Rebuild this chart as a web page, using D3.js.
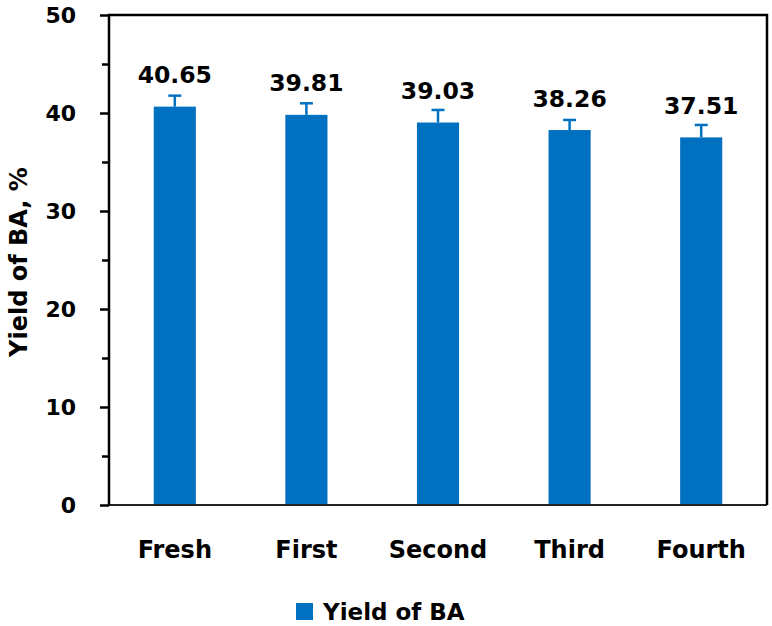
<!DOCTYPE html>
<html>
<head>
<meta charset="utf-8">
<script src="https://cdn.jsdelivr.net/npm/d3@7"></script>
<style>
  body { margin: 0; background: #fff; }
  text { font-family: "DejaVu Sans", sans-serif; font-weight: bold; fill: #000; }
</style>
</head>
<body>
<div id="chart"></div>
<script>
// data
const cycles = ["Fresh", "First", "Second", "Third", "Fourth"];
const yieldBA = [40.65, 39.81, 39.03, 38.26, 37.51];
const yieldErr = [1.12, 1.18, 1.28, 1.03, 1.27];
const yTicks = [0, 10, 20, 30, 40, 50];
const seriesName = "Yield of BA";
const yTitle = "Yield of BA, %";

const width = 772, height = 626;
const margin = { top: 15, right: 5, bottom: 121, left: 109 };
const blue = "#0070C0";

const svg = d3.select("#chart").append("svg")
  .attr("width", width)
  .attr("height", height);

const x = d3.scaleBand()
  .domain(cycles)
  .range([margin.left, width - margin.right])
  .paddingInner(0.68)
  .paddingOuter(0.34);

const y = d3.scaleLinear()
  .domain([0, 50])
  .range([height - margin.bottom, margin.top]);

// bars
svg.append("g").selectAll("rect")
  .data(cycles)
  .join("rect")
  .attr("x", d => x(d))
  .attr("y", (d, i) => y(yieldBA[i]))
  .attr("width", x.bandwidth())
  .attr("height", (d, i) => y(0) - y(yieldBA[i]))
  .attr("fill", blue);

// error bars (plus side only, minus is hidden by the bar)
const eb = svg.append("g")
  .attr("stroke", blue)
  .attr("stroke-width", 2.5);
cycles.forEach((c, i) => {
  const cx = x(c) + x.bandwidth() / 2;
  const top = y(yieldBA[i] + yieldErr[i]);
  eb.append("line")
    .attr("x1", cx).attr("x2", cx)
    .attr("y1", y(yieldBA[i])).attr("y2", top);
  eb.append("line")
    .attr("x1", cx - 6.5).attr("x2", cx + 6.5)
    .attr("y1", top).attr("y2", top);
});

// value labels
svg.append("g").selectAll("text")
  .data(cycles)
  .join("text")
  .attr("x", d => x(d) + x.bandwidth() / 2)
  .attr("y", (d, i) => y(yieldBA[i]) - 23.5)
  .attr("text-anchor", "middle")
  .style("font-size", "23.5px")
  .text((d, i) => yieldBA[i].toFixed(2));

// y axis with minor ticks at the halves
const yAxis = d3.axisLeft(y)
  .tickValues(d3.range(0, 51, 5))
  .tickSize(0)
  .tickFormat("");
const yg = svg.append("g")
  .attr("transform", `translate(${margin.left},0)`)
  .call(yAxis);
yg.select(".domain").remove();
yg.selectAll(".tick line")
  .attr("x2", d => (d % 10 === 0 ? -9 : -7))
  .attr("stroke", "#000")
  .attr("stroke-width", 2.5);

svg.append("g").selectAll("text")
  .data(yTicks)
  .join("text")
  .attr("x", 76)
  .attr("y", d => y(d))
  .attr("dy", "0.36em")
  .attr("text-anchor", "end")
  .style("font-size", "22px")
  .text(d => d);

// frame: thick left/top/right, thinner bottom
const x0 = margin.left, x1 = width - margin.right;
svg.append("line")
  .attr("x1", x0).attr("x2", x1)
  .attr("y1", y(0)).attr("y2", y(0))
  .attr("stroke", "#222").attr("stroke-width", 2);
svg.append("path")
  .attr("d", `M${x0},${y(0)}V${y(50)}H${x1}V${y(0)}`)
  .attr("fill", "none")
  .attr("stroke", "#000")
  .attr("stroke-width", 2.5);

// x labels
svg.append("g").selectAll("text")
  .data(cycles)
  .join("text")
  .attr("x", d => x(d) + x.bandwidth() / 2)
  .attr("y", 558)
  .attr("text-anchor", "middle")
  .style("font-size", "24px")
  .text(d => d);

// y title
svg.append("text")
  .attr("transform", `translate(27,262) rotate(-90)`)
  .attr("text-anchor", "middle")
  .style("font-size", "24px")
  .text(yTitle);

// legend
const lg = svg.append("g").attr("transform", "translate(296,603)");
lg.append("rect")
  .attr("width", 17).attr("height", 17)
  .attr("fill", blue);
lg.append("text")
  .attr("x", 27)
  .attr("y", 17)
  .style("font-size", "23px")
  .text(seriesName);
</script>
</body>
</html>
